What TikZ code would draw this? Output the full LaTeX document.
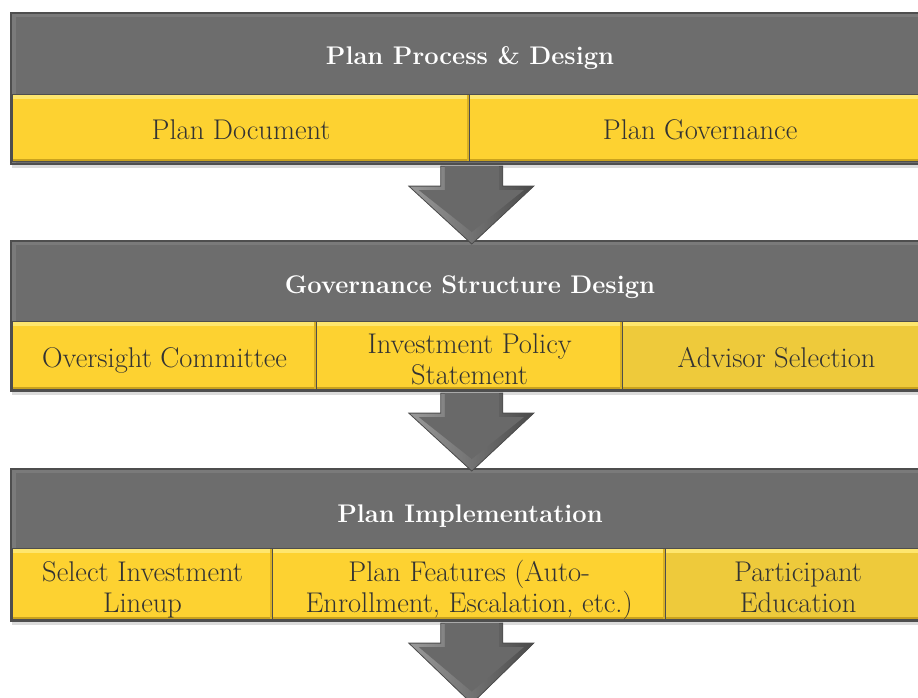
\documentclass[tikz,border=0pt]{standalone}
\usetikzlibrary{calc,shadows}

\definecolor{hdrgray}{HTML}{6D6D6D}
\definecolor{hdrlight}{HTML}{7A7A7A}
\definecolor{edgegray}{HTML}{4E4E4E}
\definecolor{cellgold}{HTML}{FDD231}
\definecolor{cellgoldb}{HTML}{EECA3B}
\definecolor{cellhi}{HTML}{FEE66E}
\definecolor{celllow}{HTML}{C9A21E}
\definecolor{celltext}{HTML}{333333}
\definecolor{arrowrim}{HTML}{9A9A9A}
\definecolor{arrowdark}{HTML}{4A4A4A}
\definecolor{arrowbody}{HTML}{696969}

\tikzset{
  x=1pt, y=-1pt,
  block/.style={draw=edgegray, line width=1.6pt, fill=hdrgray, anchor=north west,
    inner sep=0pt, minimum width=920pt,
    drop shadow={shadow xshift=1pt, shadow yshift=-4pt, opacity=0.14, fill=black},
    path picture={
      \fill[hdrlight] (path picture bounding box.north west) rectangle
        ([xshift=5pt]path picture bounding box.south west);
      \fill[hdrlight] (path picture bounding box.north west) rectangle
        ([yshift=-4pt]path picture bounding box.north east);
    }},
  header/.style={text=white, font=\bfseries\fontsize{25.5}{28}\selectfont, anchor=base, inner sep=0pt},
  cell/.style={fill=cellgold, draw=edgegray, line width=1.2pt, anchor=north west, inner sep=0pt,
    path picture={
      \fill[cellhi] (path picture bounding box.north west) rectangle
        ([yshift=-4pt]path picture bounding box.north east);
      \fill[celllow] (path picture bounding box.south west) rectangle
        ([yshift=3pt]path picture bounding box.south east);
      \fill[celllow!70!cellgold] ([xshift=-3pt]path picture bounding box.north east) rectangle
        (path picture bounding box.south east);
    }},
  celllabel/.style={text=celltext, font=\fontsize{28.5}{31}\selectfont, anchor=base,
    inner sep=0pt, align=center},
}

% block arrow pointing down from one point (#1) to a tip at the height of #2
\newcommand\flowarrow[2]{%
  \path let \p1=(#1), \p2=(#2) in
    coordinate (sa) at (\x1,\y1)
    coordinate (ta) at (\x1,\y2);
  \fill[left color=arrowrim, right color=arrowdark, draw=edgegray, line width=0.8pt]
    let \p1=(sa), \p2=(ta) in
    (\x1-31pt,\y1) -- (\x1-31pt,\y1-20pt) -- (\x1-63pt,\y1-20pt) -- (\x1,\y2)
    -- (\x1+62pt,\y1-20pt) -- (\x1+31pt,\y1-20pt) -- (\x1+31pt,\y1) -- cycle;
  \fill[arrowbody]
    let \p1=(sa), \p2=(ta) in
    (\x1-27pt,\y1) -- (\x1-27pt,\y1-24pt) -- (\x1-53pt,\y1-24pt) -- (\x1,\y2+12pt)
    -- (\x1+52pt,\y1-24pt) -- (\x1+27pt,\y1-24pt) -- (\x1+27pt,\y1) -- cycle;
}

\begin{document}
\begin{tikzpicture}
  \useasboundingbox (0,0) rectangle (918,698);
  \clip (0,0) rectangle (918,698);
  \fill[white] (0,0) rectangle (918,698);

  % ---------- stage 1 ----------
  \node[block, minimum height=151pt] (b1) at (10,12) {};
  \node[header] (h1) at (470,65) {Plan Process \& Design};
  \node[cell, minimum width=457pt, minimum height=67pt] (c11) at (12,94) {};
  \node[cell, minimum width=461pt, minimum height=67pt] (c12) at (469,94) {};
  \node[celllabel] (t11) at ($(c11.center)+(0,11.5)$) {Plan Document};
  \node[celllabel] (t12) at ($(c12.center)+(0,11.5)$) {Plan Governance};

  % ---------- stage 2 ----------
  \node[block, minimum height=150pt] (b2) at (10,240) {};
  \node[header] (h2) at (470,293) {Governance Structure Design};
  \node[cell, minimum width=304pt, minimum height=68pt] (c21) at (12,321) {};
  \node[cell, minimum width=306pt, minimum height=68pt] (c22) at (316,321) {};
  \node[cell, fill=cellgoldb, minimum width=308pt, minimum height=68pt] (c23) at (622,321) {};
  \node[celllabel] (t21) at ($(c21.center)+(0,12)$) {Oversight Committee};
  \node[celllabel] (t22) at ($(c22.center)+(0,29)$) {Investment Policy\\Statement};
  \node[celllabel] (t23) at ($(c23.center)+(0,12)$) {Advisor Selection};

  % ---------- stage 3 ----------
  \node[block, minimum height=152pt] (b3) at (10,468) {};
  \node[header] (h3) at (470,522) {Plan Implementation};
  \node[cell, minimum width=260pt, minimum height=71pt] (c31) at (12,548) {};
  \node[cell, minimum width=393pt, minimum height=71pt] (c32) at (272,548) {};
  \node[cell, fill=cellgoldb, minimum width=265pt, minimum height=71pt] (c33) at (665,548) {};
  \node[celllabel] (t31) at ($(c31.center)+(0,28.5)$) {Select Investment\\Lineup};
  \node[celllabel] (t32) at ($(c32.center)+(0,28.5)$) {Plan Features (Auto-\\Enrollment, Escalation, etc.)};
  \node[celllabel] (t33) at ($(c33.center)+(0,28.5)$) {Participant\\Education};

  % ---------- arrows between stages ----------
  \coordinate (a1) at ($(b1.south)+(1,1.5)$);
  \coordinate (a2) at ($(b2.south)+(1,1.5)$);
  \coordinate (a3) at ($(b3.south)+(1,1.5)$);
  \coordinate (end) at ($(b3.south)+(0,82)$);
  \flowarrow{a1}{$(b2.north)+(0,4)$}
  \flowarrow{a2}{$(b3.north)+(0,3)$}
  \flowarrow{a3}{end}
\end{tikzpicture}
\end{document}
